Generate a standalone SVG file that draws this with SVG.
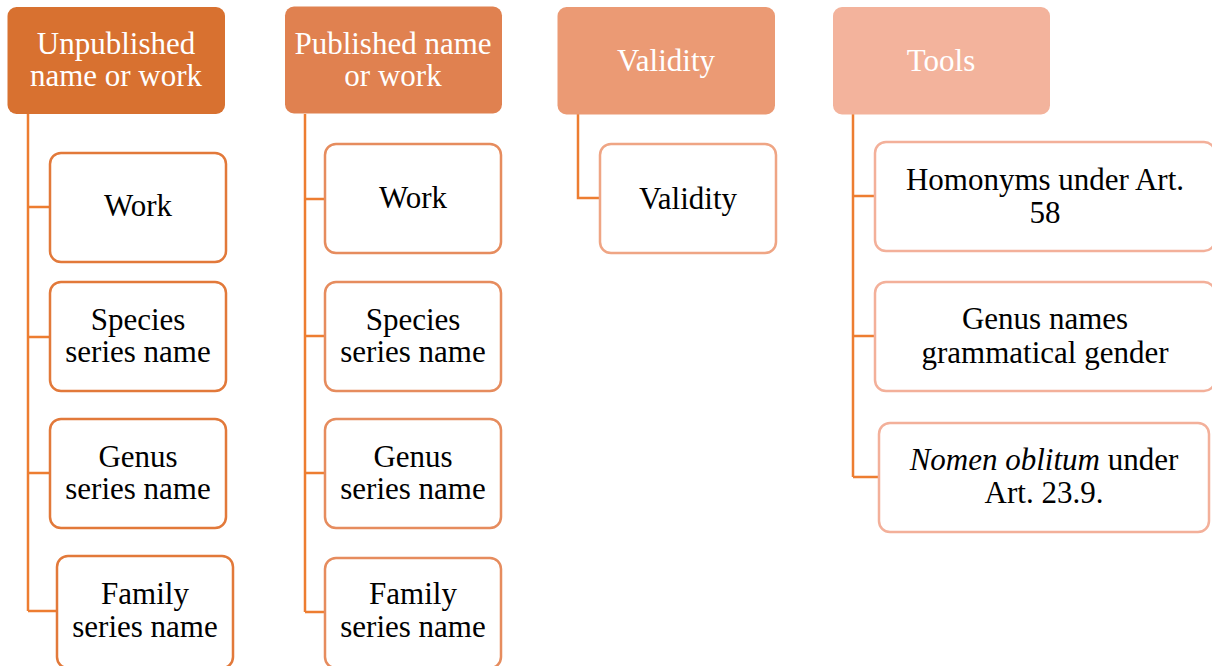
<svg xmlns="http://www.w3.org/2000/svg" width="1212" height="666" viewBox="0 0 1212 666">
<style>
.hd{stroke:none}
.hdt{font-family:"Liberation Serif","Times New Roman",serif;font-size:31px;fill:#ffffff;text-anchor:middle}
.ct{font-family:"Liberation Serif","Times New Roman",serif;font-size:31px;fill:#000000;text-anchor:middle}
.c1{fill:#ffffff;stroke:#E2793A;stroke-width:2.5}
.c2{fill:#ffffff;stroke:#E68C5E;stroke-width:2.5}
.c3{fill:#ffffff;stroke:#EFA584;stroke-width:2.5}
.c4{fill:#ffffff;stroke:#F3B09A;stroke-width:2.5}
.cn{fill:none;stroke:#ED7D31;stroke-width:2.5}
</style>
<rect width="1212" height="666" fill="#ffffff"/>
<g id="connectors">
<path class="cn" d="M28 114V611M28 207H50M28 337H50M28 473H50M28 611H57"/>
<path class="cn" d="M305 114V612M305 199H325M305 336H325M305 473H325M305 612H325"/>
<path class="cn" d="M578 114V198H600"/>
<path class="cn" d="M853 114V477M853 196H875M853 336H875M853 477H879"/>
</g>
<g id="h1"><rect class="hd" x="7.5" y="7" width="217.5" height="107" rx="9" fill="#D87130"/><text class="hdt"><tspan x="116" y="54">Unpublished</tspan><tspan x="116" y="86">name or work</tspan></text></g>
<g id="h2"><rect class="hd" x="285" y="6.5" width="217" height="107" rx="9" fill="#E08150"/><text class="hdt"><tspan x="393" y="54">Published name</tspan><tspan x="393" y="86">or work</tspan></text></g>
<g id="h3"><rect class="hd" x="557.5" y="7" width="217.5" height="107.5" rx="9" fill="#EB9A74"/><text class="hdt" x="666" y="71">Validity</text></g>
<g id="h4"><rect class="hd" x="833" y="7" width="217" height="107.5" rx="9" fill="#F3B39C"/><text class="hdt" x="941" y="71">Tools</text></g>
<g id="n1a"><rect class="c1" x="50" y="153" width="176" height="109" rx="11"/><text class="ct" x="138" y="216">Work</text></g>
<g id="n1b"><rect class="c1" x="50" y="282" width="176" height="109" rx="11"/><text class="ct"><tspan x="138" y="330">Species</tspan><tspan x="138" y="362">series name</tspan></text></g>
<g id="n1c"><rect class="c1" x="50" y="419" width="176" height="109" rx="11"/><text class="ct"><tspan x="138" y="467">Genus</tspan><tspan x="138" y="499">series name</tspan></text></g>
<g id="n1d"><rect class="c1" x="57" y="556" width="176" height="112" rx="11"/><text class="ct"><tspan x="145" y="604">Family</tspan><tspan x="145" y="637">series name</tspan></text></g>
<g id="n2a"><rect class="c2" x="325" y="144" width="176" height="109" rx="11"/><text class="ct" x="413" y="208">Work</text></g>
<g id="n2b"><rect class="c2" x="325" y="282" width="176" height="109" rx="11"/><text class="ct"><tspan x="413" y="330">Species</tspan><tspan x="413" y="362">series name</tspan></text></g>
<g id="n2c"><rect class="c2" x="325" y="419" width="176" height="109" rx="11"/><text class="ct"><tspan x="413" y="467">Genus</tspan><tspan x="413" y="499">series name</tspan></text></g>
<g id="n2d"><rect class="c2" x="325" y="558" width="176" height="110" rx="11"/><text class="ct"><tspan x="413" y="604">Family</tspan><tspan x="413" y="637">series name</tspan></text></g>
<g id="n3a"><rect class="c3" x="600" y="144" width="176" height="109" rx="11"/><text class="ct" x="688" y="209">Validity</text></g>
<g id="n4a"><rect class="c4" x="875" y="142" width="340" height="109" rx="11"/><text class="ct"><tspan x="1045" y="190">Homonyms under Art.</tspan><tspan x="1045" y="223">58</tspan></text></g>
<g id="n4b"><rect class="c4" x="875" y="282" width="340" height="109" rx="11"/><text class="ct"><tspan x="1045" y="329">Genus names</tspan><tspan x="1045" y="363">grammatical gender</tspan></text></g>
<g id="n4c"><rect class="c4" x="879" y="423" width="330" height="109" rx="11"/><text class="ct"><tspan x="1044" y="470"><tspan font-style="italic">Nomen oblitum</tspan> under</tspan><tspan x="1044" y="503">Art. 23.9.</tspan></text></g>
</svg>
